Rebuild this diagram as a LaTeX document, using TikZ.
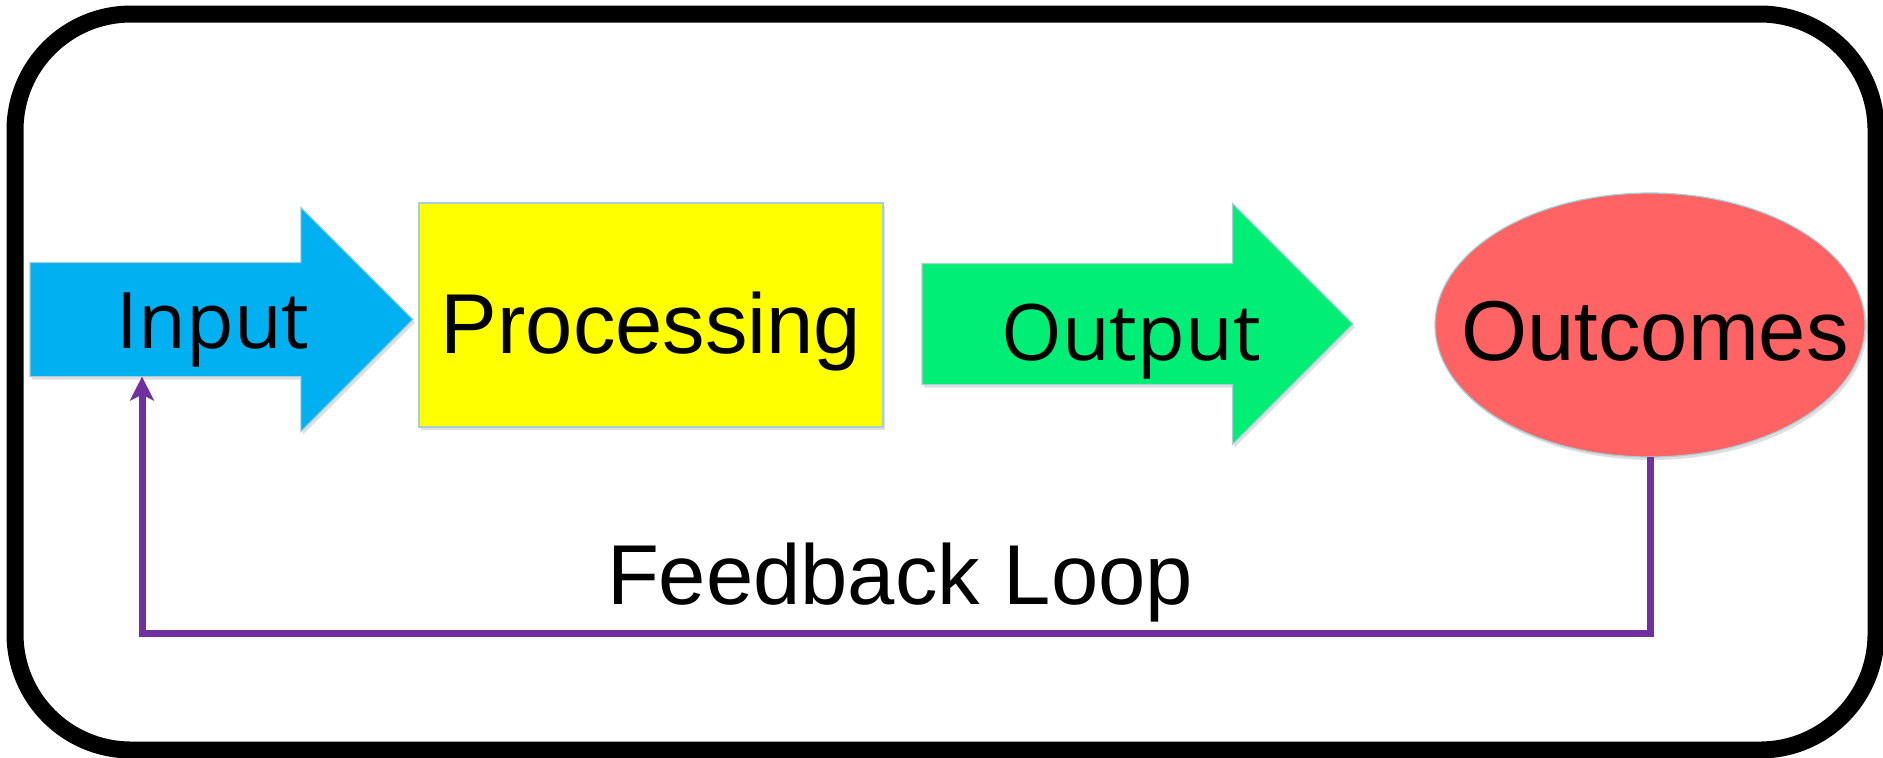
\documentclass[tikz,border=0pt]{standalone}
\usepackage{fontspec}
\setmainfont{Liberation Sans}
\newfontfamily\humanist{Open Sans}
\usetikzlibrary{arrows.meta,shapes.arrows,shapes.geometric,shadows}

\definecolor{inblue}{RGB}{0,176,240}
\definecolor{procyellow}{RGB}{255,255,0}
\definecolor{outgreen}{RGB}{0,238,118}
\definecolor{outcred}{RGB}{255,99,99}
\definecolor{loopviolet}{RGB}{112,48,160}
\definecolor{edgeblue}{RGB}{165,208,218}

\begin{document}
\begin{tikzpicture}[
  x=0.5pt,y=-0.5pt,
  every node/.style={inner sep=0pt,outer sep=0pt},
  softshadow/.style={drop shadow={opacity=0.25,shadow xshift=1pt,shadow yshift=-1.5pt}},
  flow/.style={single arrow,single arrow head indent=0pt,anchor=tail,draw=edgeblue,line width=0.6pt,softshadow,text depth=0pt},
  stage/.style={rectangle,draw=edgeblue,line width=0.6pt,fill=procyellow,softshadow},
  result/.style={ellipse,draw=edgeblue,line width=0.6pt,fill=outcred,softshadow},
  bigtext/.style={font=\fontsize{42.5pt}{50pt}\selectfont},
  flowtext/.style={font=\humanist\fontsize{39pt}{47pt}\selectfont,anchor=base},
  feedback/.style={-{Stealth[length=12pt,width=12pt,inset=3pt]},line width=3.5pt,draw=loopviolet}]

  \useasboundingbox (0,0) rectangle (1883,757);

  % Outer frame
  \draw[line width=8.5pt,rounded corners=58pt] (15,14) rectangle (1876,750);

  % Position the nodes at their coordinates
  \node[flow,fill=inblue,text height=56.5pt,minimum height=191.5pt,single arrow head extend=27.5pt] (inarrow) at (30,319.5) {};
  \node[flowtext] (intext) at (213,348) {Input};
  \node[stage,bigtext,minimum width=232pt,minimum height=112pt,text height=38pt,text depth=0pt] (proc) at (651,315) {Processing};
  \node[flow,fill=outgreen,text height=60pt,minimum height=215.5pt,single arrow head extend=30pt] (outarrow) at (922,324) {};
  \node[flowtext] (outtext) at (1131,360) {Output};
  \node[result,minimum width=215pt,minimum height=132pt] (outc) at (1650,325) {};
  \node[bigtext,anchor=base] (outctext) at (1655,360) {Outcomes};
  \node[bigtext,anchor=base] (looptext) at (900,604) {Feedback Loop};

  % Draw the feedback connector back to the input
  \coordinate (loopturn) at (142,633);
  \draw[feedback] (outc.south) |- (loopturn) -- (loopturn |- inarrow.south);
\end{tikzpicture}
\end{document}
